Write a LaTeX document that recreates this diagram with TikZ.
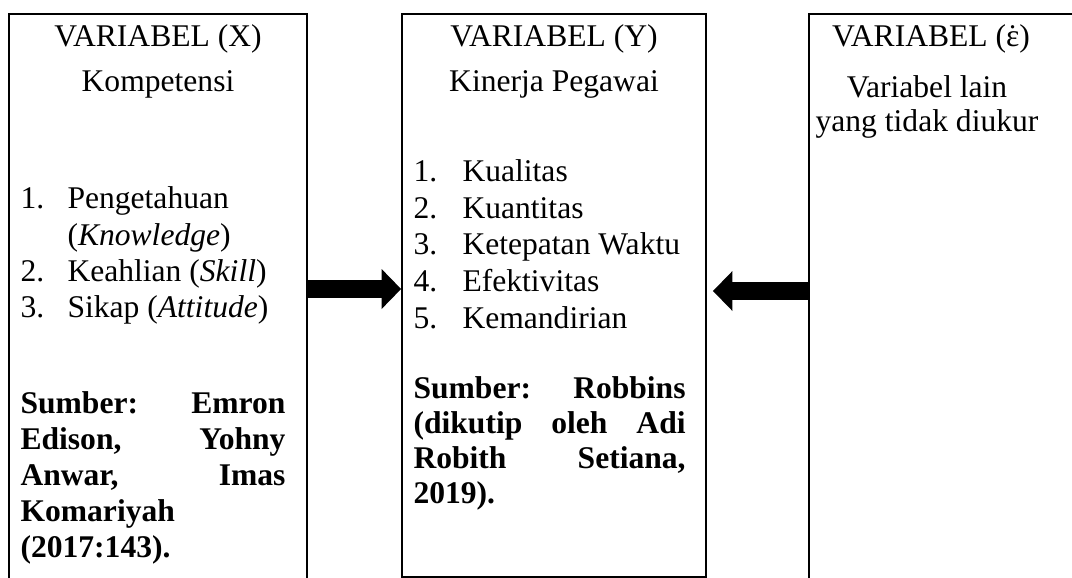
\documentclass[tikz,border=0pt]{standalone}
\usepackage{fontspec}
\setmainfont{Liberation Serif}
\usetikzlibrary{arrows.meta, fit}

\tikzset{
    colbox/.style={draw, line width=0.7pt, inner sep=0pt},
    headtxt/.style={anchor=base, inner sep=0pt},
    itemtxt/.style={anchor=base west, inner sep=0pt},
    srctxt/.style={anchor=base west, inner sep=0pt, font=\fontsize{12}{14}\selectfont\bfseries},
    fatarrow/.style={line width=6.8pt,
        -{Triangle[length=7.4pt, width=15.2pt, line width=0pt 0 0]}}
}

\newcommand{\srcX}[1]{\makebox[100.7pt][s]{#1}}
\newcommand{\srcY}[1]{\makebox[103.4pt][s]{#1}}
\newcommand{\epsdot}{\ooalign{ε\cr\hidewidth˙\hidewidth\cr}}

\begin{document}
\begin{tikzpicture}[x=0.38pt, y=-0.38pt, font=\fontsize{12}{14}\selectfont]

    \useasboundingbox (0,0) rectangle (1072,578);
    \clip (0,0) rectangle (1072,578);

    % Columns
    \node[colbox, fit={(9,14) (307,640)}] (boxX) {};
    \node[colbox, fit={(402,14) (706,577)}] (boxY) {};
    \node[colbox, fit={(809,14) (1120,640)}] (boxE) {};

    % Variabel X
    \node[headtxt] (titX) at (158,47) {VARIABEL (X)};
    \node[headtxt] (subX) at (158,92) {Kompetensi};
    \node[itemtxt] (numX1) at (20,209) {1.};
    \node[itemtxt] (itemX1) at (67,209) {Pengetahuan};
    \node[itemtxt] (itemX1b) at (67,245) {(\textit{Knowledge})};
    \node[itemtxt] (numX2) at (20,281) {2.};
    \node[itemtxt] (itemX2) at (67,281) {Keahlian (\textit{Skill})};
    \node[itemtxt] (numX3) at (20,317) {3.};
    \node[itemtxt] (itemX3) at (67,317) {Sikap (\textit{Attitude})};

    \node[srctxt] (srcX1) at (20,413) {\srcX{Sumber: Emron}};
    \node[srctxt] (srcX2) at (20,449) {\srcX{Edison, Yohny}};
    \node[srctxt] (srcX3) at (20,485) {\srcX{Anwar, Imas}};
    \node[srctxt] (srcX4) at (20,521) {Komariyah};
    \node[srctxt] (srcX5) at (20,557) {(2017:143).};

    % Variabel Y
    \node[headtxt] (titY) at (554,47) {VARIABEL (Y)};
    \node[headtxt] (subY) at (554,92) {Kinerja Pegawai};
    \foreach \txt [count=\i] in {Kualitas, Kuantitas, Ketepatan Waktu, Efektivitas, Kemandirian} {
        \node[itemtxt] (numY\i) at (413,{182+36.5*(\i-1)}) {\i.};
        \node[itemtxt] (itemY\i) at (462,{182+36.5*(\i-1)}) {\txt};
    }

    \node[srctxt] (srcY1) at (413,398) {\srcY{Sumber: Robbins}};
    \node[srctxt] (srcY2) at (413,433) {\srcY{(dikutip oleh Adi}};
    \node[srctxt] (srcY3) at (413,468) {\srcY{Robith Setiana,}};
    \node[srctxt] (srcY4) at (413,503) {2019).};

    % Variabel epsilon
    \node[headtxt] (titE) at (931,47) {VARIABEL (\epsdot)};
    \node[headtxt] (subE1) at (927,98) {Variabel lain};
    \node[headtxt] (subE2) at (927,132) {yang tidak diukur};

    % Arrows
    \draw[fatarrow] (boxX.east |- 0,289) -- (boxY.west |- 0,289);
    \draw[fatarrow, shorten >=2.3pt] (boxE.west |- 0,291) -- (boxY.east |- 0,291);

\end{tikzpicture}
\end{document}
